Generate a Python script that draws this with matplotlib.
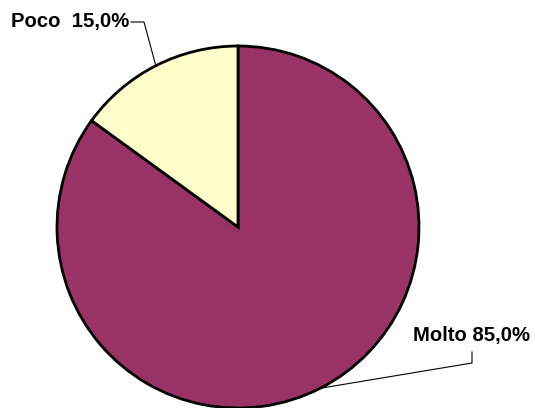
import numpy as np
import matplotlib
matplotlib.use("Agg")
import matplotlib.pyplot as plt

categories = ["Molto", "Poco"]
values = [85.0, 15.0]
colors = ["#993366", "#FFFFCC"]
label_texts = ["Molto 85,0%", "Poco  15,0%"]

W, H = 535, 408
fig = plt.figure(figsize=(W / 100, H / 100), dpi=100)
ax = fig.add_axes([0, 0, 1, 1])
ax.set_xlim(0, W)
ax.set_ylim(0, H)
ax.set_aspect("equal")
ax.axis("off")

cx, cy, r = 238, H - 227, 181
wedges, _ = ax.pie(values, colors=colors, startangle=90, counterclock=False,
                   center=(cx, cy), radius=r, frame=True,
                   wedgeprops=dict(edgecolor="black", linewidth=2.0))
ax.set_xlim(0, W)
ax.set_ylim(0, H)
ax.axis("off")

font = dict(family=["Liberation Sans", "DejaVu Sans"], weight="bold", fontsize=14.6)

# label positions and leader elbows (pixel coords from top)
label_pos = {"Molto": (413, 335, "left"), "Poco": (11, 21, "left")}
elbows = {"Molto": [(472, 352), (472, 363)], "Poco": [(131, 22), (144, 22)]}

for w, cat, txt in zip(wedges, categories, label_texts):
    mid = np.deg2rad((w.theta1 + w.theta2) / 2)
    ex, ey = cx + r * np.cos(mid), cy + r * np.sin(mid)
    lx, ly, ha = label_pos[cat]
    ax.text(lx, H - ly, txt, ha=ha, va="center", color="black", **font)
    pts = [(x, H - y) for x, y in elbows[cat]] + [(ex, ey)]
    ax.plot([p[0] for p in pts], [p[1] for p in pts], color="black", lw=0.8)

fig.savefig("out.png", dpi=100)
